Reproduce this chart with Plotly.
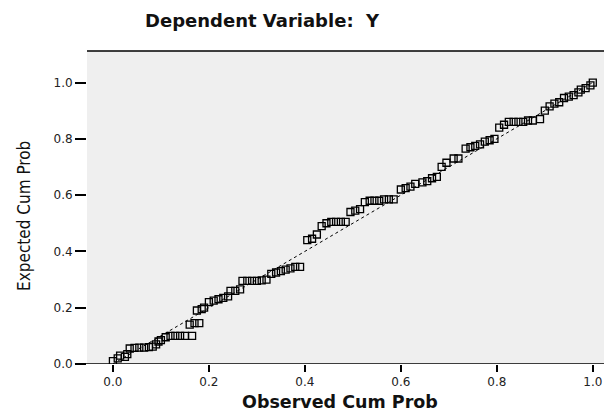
import plotly.graph_objects as go

observed = [0.00, 0.01, 0.015, 0.025, 0.03,
            0.035, 0.045, 0.055, 0.065, 0.075, 0.083,
            0.09, 0.095, 0.10,
            0.11, 0.12, 0.13, 0.14, 0.15, 0.165,
            0.16, 0.17, 0.18,
            0.175, 0.185, 0.19,
            0.20, 0.21, 0.22, 0.23, 0.24,
            0.245, 0.255, 0.265,
            0.27, 0.28, 0.29, 0.30, 0.31, 0.32,
            0.33, 0.34, 0.35, 0.36, 0.37, 0.38, 0.39,
            0.405, 0.415, 0.425,
            0.435, 0.445, 0.455, 0.465, 0.475, 0.485,
            0.495, 0.505, 0.515,
            0.525, 0.535, 0.545, 0.555, 0.565, 0.575, 0.585,
            0.60, 0.61, 0.62, 0.63, 0.645, 0.655, 0.665, 0.675,
            0.685, 0.695, 0.71, 0.72,
            0.735, 0.745, 0.755, 0.765, 0.775, 0.785, 0.795,
            0.805, 0.815, 0.825,
            0.835, 0.845, 0.855, 0.865, 0.875, 0.89,
            0.90, 0.91, 0.92, 0.93,
            0.94, 0.95, 0.96, 0.97,
            0.975, 0.985, 0.995, 1.0]
expected = [0.01, 0.02, 0.03, 0.025, 0.035,
            0.055, 0.057, 0.058, 0.058, 0.06, 0.062,
            0.07, 0.08, 0.085,
            0.095, 0.10, 0.10, 0.10, 0.10, 0.10,
            0.14, 0.145, 0.145,
            0.19, 0.195, 0.20,
            0.22, 0.225, 0.23, 0.235, 0.24,
            0.26, 0.26, 0.265,
            0.295, 0.295, 0.295, 0.295, 0.297, 0.30,
            0.32, 0.325, 0.33, 0.335, 0.34, 0.345, 0.345,
            0.44, 0.445, 0.46,
            0.49, 0.50, 0.505, 0.505, 0.505, 0.505,
            0.54, 0.545, 0.55,
            0.575, 0.58, 0.58, 0.58, 0.585, 0.585, 0.585,
            0.62, 0.625, 0.63, 0.64, 0.645, 0.65, 0.66, 0.665,
            0.70, 0.715, 0.73, 0.73,
            0.765, 0.77, 0.775, 0.78, 0.79, 0.795, 0.80,
            0.84, 0.85, 0.86,
            0.86, 0.86, 0.86, 0.865, 0.865, 0.87,
            0.90, 0.915, 0.925, 0.93,
            0.945, 0.95, 0.955, 0.965,
            0.975, 0.98, 0.99, 1.0]

ref_line = [0.0, 1.0]
tick_vals = [0.0, 0.2, 0.4, 0.6, 0.8, 1.0]
tick_text = ["0.0", "0.2", "0.4", "0.6", "0.8", "1.0"]

fig = go.Figure()
fig.add_trace(go.Scatter(x=ref_line, y=ref_line, mode="lines",
                         line=dict(color="black", width=1, dash="dot"),
                         hoverinfo="skip", showlegend=False))
fig.add_trace(go.Scatter(x=observed, y=expected, mode="markers",
                         marker=dict(symbol="square-open", size=7, color="black",
                                     line=dict(color="black", width=1.3)),
                         showlegend=False))

tick_font = dict(family="DejaVu Sans", size=12, color="#222")
fig.update_layout(
    width=604, height=403,
    margin=dict(l=79, r=0, t=43, b=47),
    paper_bgcolor="white", plot_bgcolor="#efefef",
    xaxis=dict(range=[-0.054, 1.04], tickvals=tick_vals, ticktext=tick_text,
               ticks="outside", ticklen=7, tickwidth=1.5, tickcolor="black",
               showgrid=False, zeroline=False, showline=False, tickfont=tick_font),
    yaxis=dict(range=[0, 1.112], tickvals=tick_vals, ticktext=tick_text,
               ticks="outside", ticklen=11, tickwidth=1.5, tickcolor="black",
               showgrid=False, zeroline=False, showline=False, tickfont=tick_font),
    shapes=[
        dict(type="line", xref="paper", yref="y", x0=-0.023, x1=1, y0=0, y1=0,
             line=dict(color="black", width=1.5)),
        dict(type="line", xref="paper", yref="paper", x0=0, x1=1, y0=1, y1=1,
             line=dict(color="black", width=1.5)),
    ],
    annotations=[
        dict(text="<b>Dependent Variable:  Y</b>", xref="paper", yref="paper",
             x=0.335, y=1.096, xanchor="center", yanchor="middle", showarrow=False,
             font=dict(family="DejaVu Sans", size=18, color="#111")),
        dict(text="<b>Observed Cum Prob</b>", xref="paper", yref="paper",
             x=0.482, y=-0.12, xanchor="center", yanchor="middle", showarrow=False,
             font=dict(family="DejaVu Sans", size=17.5, color="#111")),
        dict(text="Expected Cum Prob", xref="paper", yref="paper",
             x=-0.12, y=0.473, xanchor="center", yanchor="middle", showarrow=False,
             textangle=-90,
             font=dict(family="Liberation Sans Narrow, DejaVu Sans Condensed, Liberation Sans",
                       size=17, color="#111")),
    ],
)

fig.write_html("out.html")
